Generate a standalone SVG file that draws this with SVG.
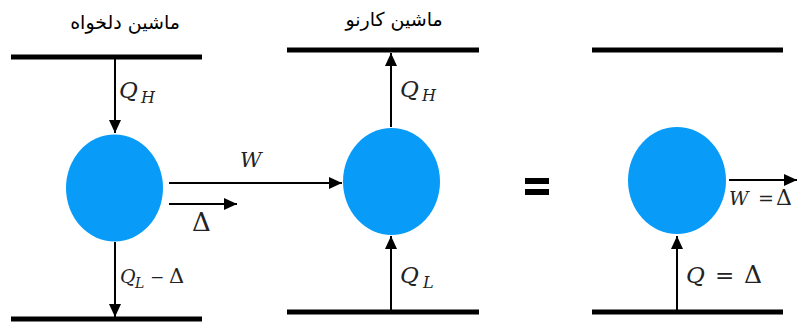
<svg xmlns="http://www.w3.org/2000/svg" width="797" height="324" viewBox="0 0 797 324">
<style>
.bar{stroke:#000;stroke-width:5;fill:none}
.arr{stroke:#000;stroke-width:2;fill:none;marker-end:url(#ah)}
.eng{fill:#089cf8}
.t{font-family:'DejaVu Sans',sans-serif;font-size:19px;fill:#000}
text.m{font-family:'DejaVu Serif',serif;fill:#222}
.i{font-style:italic}
</style>
<defs>
<marker id="ah" markerUnits="userSpaceOnUse" markerWidth="14" markerHeight="12" refX="13" refY="6" orient="auto">
<path d="M0,0 L13,6 L0,12 Z" fill="#000"/>
</marker>
</defs>
<g id="reservoirs">
<line class="bar" x1="11" y1="57" x2="202" y2="57"/>
<line class="bar" x1="11" y1="319" x2="202" y2="319"/>
<line class="bar" x1="287" y1="50" x2="479" y2="50"/>
<line class="bar" x1="287" y1="312" x2="479" y2="312"/>
<line class="bar" x1="592" y1="50" x2="783" y2="50"/>
<line class="bar" x1="592" y1="312" x2="783" y2="312"/>
</g>
<g id="engine-arbitrary">
<ellipse class="eng" cx="114.5" cy="188" rx="48.5" ry="53.5"/>
<text class="t" x="125" y="29" text-anchor="middle" direction="rtl">ماشین دلخواه</text>
</g>
<g id="engine-carnot">
<ellipse class="eng" cx="391.5" cy="181.5" rx="48.5" ry="53.5"/>
<text class="t" x="394" y="26" text-anchor="middle" direction="rtl">ماشین کارنو</text>
</g>
<g id="engine-result">
<ellipse class="eng" cx="677" cy="180.5" rx="49" ry="53.5"/>
</g>
<g id="equals">
<rect x="525" y="178" width="24" height="6" fill="#000"/>
<rect x="525" y="189" width="24" height="6" fill="#000"/>
</g>
<g id="connectors">
<line class="arr" x1="115" y1="57" x2="115" y2="133"/>
<line class="arr" x1="115" y1="242" x2="115" y2="317"/>
<line class="arr" x1="169" y1="183" x2="342" y2="183"/>
<line class="arr" x1="169" y1="204" x2="237" y2="204"/>
<line class="arr" x1="391" y1="127" x2="391" y2="53"/>
<line class="arr" x1="391" y1="310" x2="391" y2="236"/>
<line class="arr" x1="729" y1="180" x2="797" y2="180"/>
<line class="arr" x1="677" y1="310" x2="677" y2="236"/>
</g>
<g id="labels">
<text class="m i" x="119" y="98" font-size="23">Q</text>
<text class="m i" x="141" y="103" font-size="16">H</text>
<text class="m i" x="120" y="283" font-size="19">Q</text>
<text class="m i" x="135" y="288" font-size="14">L</text>
<text class="m" x="150" y="283" font-size="17">−</text>
<text class="m" x="169" y="283" font-size="21">Δ</text>
<text class="m i" x="240" y="167" font-size="21">W</text>
<text class="m" x="192" y="231" font-size="26">Δ</text>
<text class="m i" x="400" y="97" font-size="23">Q</text>
<text class="m i" x="422" y="101" font-size="16">H</text>
<text class="m i" x="400" y="283" font-size="23">Q</text>
<text class="m i" x="423" y="288" font-size="16">L</text>
<text class="m i" x="729" y="205" font-size="19">W</text>
<text class="m" x="758" y="205" font-size="19">=</text>
<text class="m" x="776" y="205" font-size="22">Δ</text>
<text class="m i" x="686" y="283" font-size="23">Q</text>
<text class="m" x="715" y="283" font-size="23">=</text>
<text class="m" x="744" y="283" font-size="25">Δ</text>
</g>
</svg>
